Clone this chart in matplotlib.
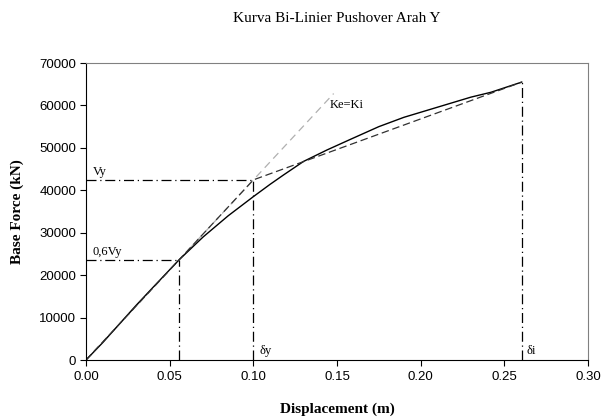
import matplotlib.pyplot as plt

# pushover curve
disp = [0.0, 0.01, 0.02, 0.03, 0.04, 0.0556, 0.07, 0.085, 0.1, 0.11, 0.118, 0.13,
        0.144, 0.158, 0.175, 0.19, 0.206, 0.23, 0.242, 0.2604]
force = [0, 4100, 8500, 12900, 17100, 23600, 29000, 34000, 38500, 41400, 43600, 46800,
         49500, 52000, 55000, 57200, 59100, 61950, 63100, 65500]

# bilinear idealisation
bi_x = [0.0, 0.1, 0.2604]
bi_y = [0, 42450, 65500]

# initial stiffness line Ke=Ki
ke_x = [0.0, 0.148]
ke_y = [0, 62800]

vy = 42450
vy06 = 23600
d06 = 0.0556
dy = 0.1
di = 0.2604
fi = 65500

serif = 'Liberation Serif'
sans = 'Liberation Sans'

fig = plt.figure(figsize=(6.01, 4.19), dpi=100)
ax = fig.add_axes([86 / 601, 1 - 360 / 419, 502 / 601, 297 / 419])

dashdot = (0, (8, 3, 1, 3))
ax.plot(ke_x, ke_y, color='#b0b0b0', lw=0.9, linestyle=(0, (6, 4)))
ax.plot(disp, force, color='black', lw=1.0)
ax.plot(bi_x, bi_y, color='#303030', lw=0.9, linestyle=(0, (6, 3)))

ax.plot([0, dy], [vy, vy], color='black', lw=0.9, linestyle=dashdot)
ax.plot([dy, dy], [0, vy], color='black', lw=0.9, linestyle=dashdot)
ax.plot([0, d06], [vy06, vy06], color='black', lw=0.9, linestyle=dashdot)
ax.plot([d06, d06], [0, vy06], color='black', lw=0.9, linestyle=dashdot)
ax.plot([di, di], [0, fi], color='black', lw=0.9, linestyle=dashdot)

ax.text(0.004, 43000, 'Vy', fontsize=9, family=serif, va='bottom')
ax.text(0.004, 24100, '0,6Vy', fontsize=9, family=serif, va='bottom')
ax.text(0.1035, 600, 'δy', fontsize=9, family=serif, va='bottom')
ax.text(0.2635, 600, 'δi', fontsize=9, family=serif, va='bottom')
ax.text(0.1458, 60100, 'Ke=Ki', fontsize=9, family=serif, va='center')

ax.set_xlim(0, 0.30)
ax.set_ylim(0, 70000)
ax.set_xticks([0, 0.05, 0.10, 0.15, 0.20, 0.25, 0.30])
ax.set_xticklabels(['0.00', '0.05', '0.10', '0.15', '0.20', '0.25', '0.30'])
ax.set_yticks(range(0, 70001, 10000))
for lab in ax.get_xticklabels() + ax.get_yticklabels():
    lab.set_family(sans)
    lab.set_fontsize(9.5)
ax.tick_params(direction='out', length=4, width=0.8, pad=3)
ax.tick_params(axis='x', pad=4)

ax.spines['left'].set_color('black')
ax.spines['bottom'].set_color('black')
ax.spines['top'].set_color('#808080')
ax.spines['right'].set_color('#808080')

ax.set_xlabel('Displacement (m)', fontsize=11, family=serif, fontweight='bold')
ax.set_ylabel('Base Force (kN)', fontsize=11, family=serif, fontweight='bold')
ax.xaxis.set_label_coords(0.5, -0.142)
ax.yaxis.set_label_coords(-0.123, 0.5)
fig.text(337 / 601, 1 - 18 / 419, 'Kurva Bi-Linier Pushover Arah Y', fontsize=11,
         family=serif, ha='center', va='center')

fig.savefig('out.png', dpi=100)
